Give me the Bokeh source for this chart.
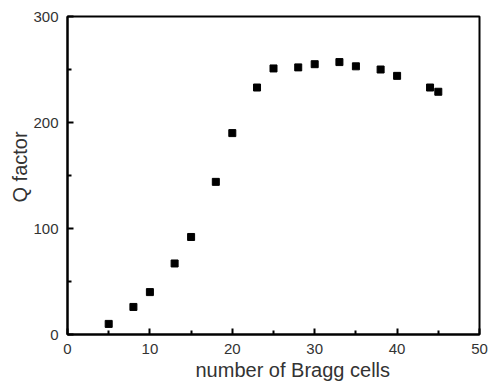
from bokeh.plotting import figure
from bokeh.embed import file_html
from bokeh.resources import INLINE
from bokeh.models import Range1d, FixedTicker, Title

cells = [5, 8, 10, 13, 15, 18, 20, 23, 25, 28, 30, 33, 35, 38, 40, 44, 45]
qfactor = [10, 26, 40, 67, 92, 144, 190, 233, 251, 252, 255, 257, 253, 250, 244, 233, 229]
x_ticks = [0, 10, 20, 30, 40, 50]
y_ticks = [0, 100, 200, 300]
x_label = "number of Bragg cells"
y_label = "Q factor"

p = figure(width=488, height=382, output_backend="svg", toolbar_location=None,
           x_range=Range1d(0, 50), y_range=Range1d(0, 300),
           min_border_left=67, min_border_top=16, min_border_right=9, min_border_bottom=48)

p.scatter(cells, qfactor, marker="square", size=7, color="black")

p.grid.visible = False
p.outline_line_color = "black"
p.outline_line_width = 2
p.outline_line_alpha = 1

FONT = "Liberation Sans"
for ax in (p.xaxis[0], p.yaxis[0]):
    ax.axis_line_width = 2
    ax.axis_line_color = "black"
    ax.major_tick_in = 6
    ax.major_tick_out = 0
    ax.minor_tick_in = 4
    ax.minor_tick_out = 0
    ax.major_tick_line_width = 2
    ax.minor_tick_line_width = 2
    ax.major_label_text_font = FONT
    ax.major_label_text_font_size = "15px"
    ax.major_label_text_color = "#333333"

p.xaxis.ticker = FixedTicker(ticks=x_ticks, minor_ticks=[5, 15, 25, 35, 45])
p.yaxis.ticker = FixedTicker(ticks=y_ticks, minor_ticks=[50, 150, 250])
p.xaxis.major_label_standoff = 9
p.yaxis.major_label_standoff = 9

xt = Title(text=x_label, align="left", offset=128, standoff=0,
           text_font=FONT, text_font_size="20px", text_font_style="normal",
           text_color="#333333")
yt = Title(text=y_label, align="left", offset=132, standoff=0,
           text_font=FONT, text_font_size="20px", text_font_style="normal",
           text_color="#333333")
p.add_layout(xt, "below")
p.add_layout(yt, "left")

open("out.html", "w").write(file_html(p, INLINE))
